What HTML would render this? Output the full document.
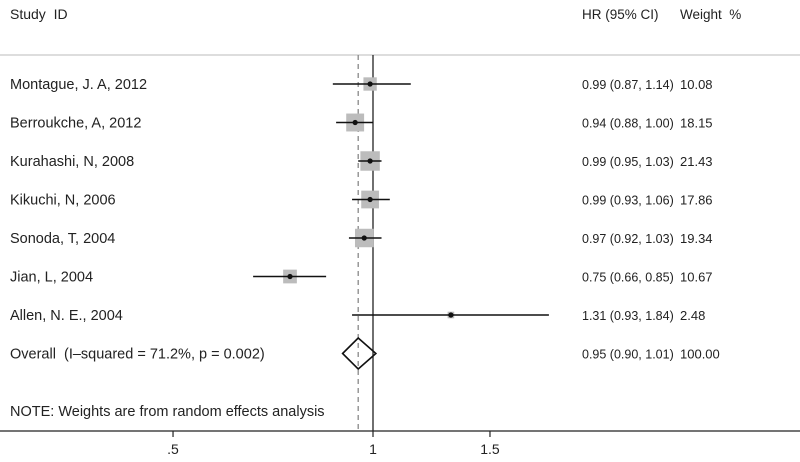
<!DOCTYPE html>
<html><head><meta charset="utf-8"><style>
html,body{margin:0;padding:0;background:#fff;}
svg text{font-family:"Liberation Sans",sans-serif;font-size:13px;fill:#222;}
</style></head><body>
<svg width="800" height="457" xmlns="http://www.w3.org/2000/svg">
<g id="g"></g>
</svg>
<script>
const studies=["Montague, J. A, 2012","Berroukche, A, 2012","Kurahashi, N, 2008","Kikuchi, N, 2006","Sonoda, T, 2004","Jian, L, 2004","Allen, N. E., 2004"];
const hr=[0.99,0.94,0.99,0.99,0.97,0.75,1.31];
const lo=[0.87,0.88,0.95,0.93,0.92,0.66,0.93];
const hi=[1.14,1.00,1.03,1.06,1.03,0.85,1.84];
const weights=["10.08","18.15","21.43","17.86","19.34","10.67","2.48"];
const overall=[0.95,0.90,1.01];
const ticks=[0.5,1,1.5];
const tickLabels=[".5","1","1.5"];
const NS="http://www.w3.org/2000/svg";
const g=document.getElementById('g');
const X=v=>373+288.5*Math.log(v);
const Y=i=>84+i*38.5;
function mk(t,a,txt){const e=document.createElementNS(NS,t);for(const k in a)e.setAttribute(k,a[k]);if(txt!=null)e.textContent=txt;g.appendChild(e);return e;}
let e;
e=mk('line',{x1:0,x2:800,y1:55,y2:55,stroke:'#bbb','stroke-width':1});


e=mk('text',{x:10,y:19,style:'font-size:14px;white-space:pre'},'Study  ID');


e=mk('text',{x:582,y:19,style:'font-size:13.5px'},'HR (95% CI)');


e=mk('text',{x:680,y:19,style:'font-size:13.5px;white-space:pre'},'Weight  %');


e=mk('line',{x1:X(1),x2:X(1),y1:55,y2:431,stroke:'#222','stroke-width':1.3});


e=mk('line',{x1:X(overall[0]),x2:X(overall[0]),y1:55,y2:431,stroke:'#888','stroke-width':1.3,'stroke-dasharray':'5,4'});


studies.forEach((s,i)=>{
  const y=Y(i);
  const w=parseFloat(weights[i]);const sz=4.2*Math.sqrt(w);
  e=mk('rect',{x:X(hr[i])-sz/2,y:y-sz/2,width:sz,height:sz,fill:'#bcbcbc'});
  
  
  e=mk('line',{x1:X(lo[i]),x2:X(hi[i]),y1:y,y2:y,stroke:'#111','stroke-width':1.6});
  
  
  e=mk('circle',{cx:X(hr[i]),cy:y,r:2.6,fill:'#111'});
  
  
  e=mk('text',{x:10,y:y+5,style:'font-size:14.5px'},s);
  
  
  e=mk('text',{x:582,y:y+5,style:'font-size:12.5px'},hr[i].toFixed(2)+' ('+lo[i].toFixed(2)+', '+hi[i].toFixed(2)+')');
  
  
  e=mk('text',{x:680,y:y+5,style:'font-size:13px'},weights[i]);
  
  
});
const yo=Y(7);
e=mk('polygon',{points:`${X(overall[1])},${yo} ${X(overall[0])},${yo-15.5} ${X(overall[2])},${yo} ${X(overall[0])},${yo+15.5}`,fill:'none',stroke:'#111','stroke-width':1.6});


e=mk('text',{x:10,y:yo+5,style:'font-size:14.5px;white-space:pre'},'Overall  (I\u2013squared = 71.2%, p = 0.002)');


e=mk('text',{x:582,y:yo+5,style:'font-size:12.5px'},overall[0].toFixed(2)+' ('+overall[1].toFixed(2)+', '+overall[2].toFixed(2)+')');


e=mk('text',{x:680,y:yo+5,style:'font-size:13px'},'100.00');


e=mk('text',{x:10,y:416,style:'font-size:14.5px'},'NOTE: Weights are from random effects analysis');


e=mk('line',{x1:0,x2:800,y1:431,y2:431,stroke:'#222','stroke-width':1.2});


ticks.forEach((t,i)=>{
  e=mk('line',{x1:X(t),x2:X(t),y1:431,y2:437,stroke:'#222','stroke-width':1.2});
  
  
  e=mk('text',{x:X(t),y:454,'text-anchor':'middle',style:'font-size:14px'},tickLabels[i]);
  
  
});
</script>
</body></html>
